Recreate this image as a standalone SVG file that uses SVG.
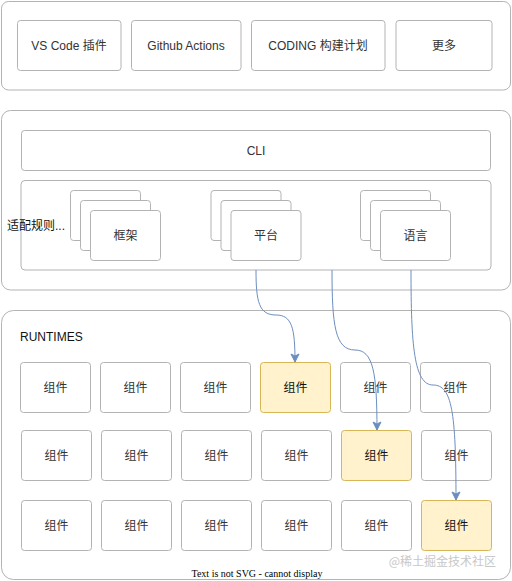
<svg xmlns="http://www.w3.org/2000/svg" width="512" height="581" viewBox="0 0 512 581">
<defs>
<style>
.bg{fill:#ffffff;stroke:#b3b3b3;stroke-width:1}
.box{fill:#ffffff;stroke:#b3b3b3;stroke-width:1}
.hl{fill:#fff2cc;stroke:#d6b656;stroke-width:1}
.t{font-family:"Liberation Sans","Noto Sans CJK SC",Arial,sans-serif;font-size:12px;fill:#333333;text-anchor:middle;dominant-baseline:central}
.th{font-family:"Liberation Sans","Noto Sans CJK SC",Arial,sans-serif;font-size:12px;fill:#111111;text-anchor:middle;dominant-baseline:central}
.tl{font-family:"Liberation Sans","Noto Sans CJK SC",Arial,sans-serif;font-size:12px;fill:#111111;dominant-baseline:central}
.edge{fill:none;stroke:#6c8ebf;stroke-width:1;marker-end:url(#arr)}
</style>
<marker id="arr" markerUnits="userSpaceOnUse" markerWidth="10" markerHeight="10" viewBox="0 0 10 10" refX="9" refY="5" orient="auto">
<path d="M1,1 L9,5 L1,9 L3,5 Z" fill="#6c8ebf" stroke="#6c8ebf"/>
</marker>
</defs>
<rect width="512" height="581" fill="#ffffff"/>

<g id="clients">
<rect class="bg" x="1.5" y="1.5" width="509" height="88.5" rx="7"/>
<g id="vscode"><rect class="box" x="17.5" y="20.5" width="103.5" height="50" rx="3"/><text class="t" x="69" y="45.5">VS Code 插件</text></g>
<g id="github"><rect class="box" x="131.5" y="20.5" width="109.5" height="50" rx="3"/><text class="t" x="186" y="45.5">Github Actions</text></g>
<g id="coding"><rect class="box" x="251.5" y="20.5" width="133.5" height="50" rx="3"/><text class="t" x="318" y="45.5">CODING 构建计划</text></g>
<g id="more"><rect class="box" x="396" y="20.5" width="96" height="50" rx="3"/><text class="t" x="444" y="45.5">更多</text></g>
</g>

<g id="core">
<rect class="bg" x="1.5" y="110.5" width="509" height="179.5" rx="9"/>
<g id="cli"><rect class="box" x="21.5" y="130.5" width="469" height="40" rx="3"/><text class="t" x="256" y="150.5">CLI</text></g>
<g id="adapter"><rect class="box" x="21" y="180.5" width="470" height="89.5" rx="4"/><text class="tl" x="7" y="226">适配规则...</text></g>
<g id="framework">
<rect class="box" x="70.5" y="190.5" width="70" height="50" rx="3"/>
<rect class="box" x="80.5" y="200.5" width="70" height="50" rx="3"/>
<rect class="box" x="90.5" y="210.5" width="70" height="50" rx="3"/>
<text class="t" x="125.5" y="235.5">框架</text>
</g>
<g id="platform">
<rect class="box" x="211" y="190.5" width="70" height="50" rx="3"/>
<rect class="box" x="221" y="200.5" width="70" height="50" rx="3"/>
<rect class="box" x="231" y="210.5" width="70" height="50" rx="3"/>
<text class="t" x="266" y="235.5">平台</text>
</g>
<g id="language">
<rect class="box" x="360.5" y="190.5" width="70" height="50" rx="3"/>
<rect class="box" x="370.5" y="200.5" width="70" height="50" rx="3"/>
<rect class="box" x="380.5" y="210.5" width="70" height="50" rx="3"/>
<text class="t" x="415.5" y="235.5">语言</text>
</g>
</g>

<g id="runtimes">
<rect class="bg" x="1.5" y="310.5" width="509" height="269" rx="12"/>
<text class="tl" x="20" y="336.5">RUNTIMES</text>
<g id="r1c1"><rect class="box" x="20.5" y="362.5" width="70" height="50" rx="3"/><text class="t" x="55.5" y="387.5">组件</text></g>
<g id="r1c2"><rect class="box" x="100.5" y="362.5" width="70" height="50" rx="3"/><text class="t" x="135.5" y="387.5">组件</text></g>
<g id="r1c3"><rect class="box" x="180.5" y="362.5" width="70" height="50" rx="3"/><text class="t" x="215.5" y="387.5">组件</text></g>
<g id="r1c4"><rect class="hl" x="260.5" y="362.5" width="70" height="50" rx="3"/><text class="th" x="295.5" y="387.5">组件</text></g>
<g id="r1c5"><rect class="box" x="340.5" y="362.5" width="70" height="50" rx="3"/><text class="t" x="375.5" y="387.5">组件</text></g>
<g id="r1c6"><rect class="box" x="420.5" y="362.5" width="70" height="50" rx="3"/><text class="t" x="455.5" y="387.5">组件</text></g>

<g id="r2c1"><rect class="box" x="21.5" y="430.5" width="70" height="50" rx="3"/><text class="t" x="56.5" y="455.5">组件</text></g>
<g id="r2c2"><rect class="box" x="101.5" y="430.5" width="70" height="50" rx="3"/><text class="t" x="136.5" y="455.5">组件</text></g>
<g id="r2c3"><rect class="box" x="181.5" y="430.5" width="70" height="50" rx="3"/><text class="t" x="216.5" y="455.5">组件</text></g>
<g id="r2c4"><rect class="box" x="261.5" y="430.5" width="70" height="50" rx="3"/><text class="t" x="296.5" y="455.5">组件</text></g>
<g id="r2c5"><rect class="hl" x="341.5" y="430.5" width="70" height="50" rx="3"/><text class="th" x="376.5" y="455.5">组件</text></g>
<g id="r2c6"><rect class="box" x="421.5" y="430.5" width="70" height="50" rx="3"/><text class="t" x="456.5" y="455.5">组件</text></g>

<g id="r3c1"><rect class="box" x="21.5" y="500.5" width="70" height="50" rx="3"/><text class="t" x="56.5" y="525.5">组件</text></g>
<g id="r3c2"><rect class="box" x="101.5" y="500.5" width="70" height="50" rx="3"/><text class="t" x="136.5" y="525.5">组件</text></g>
<g id="r3c3"><rect class="box" x="181.5" y="500.5" width="70" height="50" rx="3"/><text class="t" x="216.5" y="525.5">组件</text></g>
<g id="r3c4"><rect class="box" x="261.5" y="500.5" width="70" height="50" rx="3"/><text class="t" x="296.5" y="525.5">组件</text></g>
<g id="r3c5"><rect class="box" x="341.5" y="500.5" width="70" height="50" rx="3"/><text class="t" x="376.5" y="525.5">组件</text></g>
<g id="r3c6"><rect class="hl" x="421.5" y="500.5" width="70" height="50" rx="3"/><text class="th" x="456.5" y="525.5">组件</text></g>
</g>

<g id="connectors">
<path class="edge" d="M256,270 C256,302 259,315 276,315 C292,315 295,328 295,362"/>
<path class="edge" d="M332,270 C332,325 335,350 355,350 C373,350 377,372 377,430"/>
<path class="edge" d="M411,270 C411,345 414,385 433,385 C452,385 456,412 456,500"/>
</g>

<text x="496" y="560" font-family="'Noto Sans CJK SC',sans-serif" font-size="12" fill="#c8c8c8" text-anchor="end" dominant-baseline="central">@稀土掘金技术社区</text>
<text x="257" y="573" font-family="'Liberation Serif',serif" font-size="10" fill="#000000" text-anchor="middle" dominant-baseline="central">Text is not SVG - cannot display</text>
</svg>
